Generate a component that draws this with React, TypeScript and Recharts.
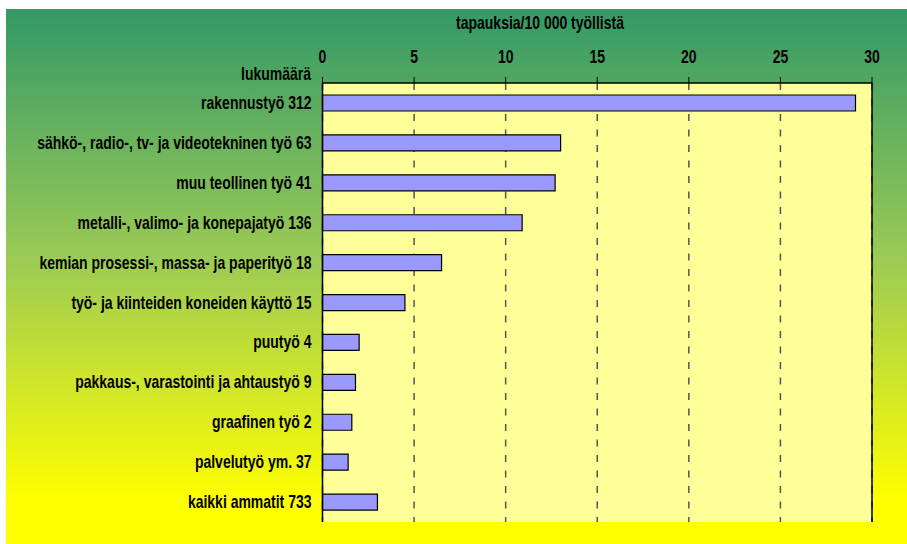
import React from 'react';
import { BarChart, Bar, XAxis, YAxis, CartesianGrid, ReferenceLine } from 'recharts';

const occupations = [
  'rakennustyö',
  'sähkö-, radio-, tv- ja videotekninen työ',
  'muu teollinen työ',
  'metalli-, valimo- ja konepajatyö',
  'kemian prosessi-, massa- ja paperityö',
  'työ- ja kiinteiden koneiden käyttö',
  'puutyö',
  'pakkaus-, varastointi ja ahtaustyö',
  'graafinen työ',
  'palvelutyö ym.',
  'kaikki ammatit',
];
const counts = ['312', '63', '41', '136', '18', '15', '4', '9', '2', '37', '733'];
const rates = [29.1, 13.0, 12.7, 10.9, 6.5, 4.5, 2.0, 1.8, 1.6, 1.4, 3.0];
const xTicks = [0, 5, 10, 15, 20, 25, 30];
const xTitle = 'tapauksia/10 000 työllistä';
const yTitle = 'lukumäärä';

const data = occupations.map((o, i) => ({ label: `${o} ${counts[i]}`, rate: rates[i] }));

const FONT = "'Liberation Sans', Arial, sans-serif";
const SX = 0.8;

const NarrowText = ({ x, y, anchor, children }: any) => (
  <text
    transform={`translate(${x},${y}) scale(${SX},1)`}
    x={0}
    y={0}
    textAnchor={anchor}
    fontFamily={FONT}
    fontSize={17.5}
    fontWeight="bold"
    fill="#000"
  >
    {children}
  </text>
);

const XTick = (props: any) => {
  const { x, y, payload } = props;
  return <NarrowText x={x} y={y - 12} anchor="middle">{payload.value}</NarrowText>;
};

const YTick = (props: any) => {
  const { x, y, payload } = props;
  return <NarrowText x={x} y={y + 6} anchor="end">{payload.value}</NarrowText>;
};

const XTitle = () => <NarrowText x={540} y={29} anchor="middle">{xTitle}</NarrowText>;

const YTitle = () => <NarrowText x={311} y={80} anchor="end">{yTitle}</NarrowText>;

export default function App() {
  return (
    <div style={{ position: 'absolute', left: 0, top: 0, width: 907, height: 544, background: '#fff' }}>
      <div
        style={{
          position: 'absolute',
          left: 6,
          top: 9,
          right: 0,
          bottom: 0,
          background: 'linear-gradient(to bottom, #339966 0%, #9CCB55 47%, #FFFF00 92%, #FFFF00 100%)',
        }}
      />
      <div style={{ position: 'absolute', left: 0, top: 0 }}>
        <BarChart
          width={907}
          height={544}
          data={data}
          layout="vertical"
          margin={{ top: 43, right: 35, bottom: 22, left: 0 }}
          barSize={16}
        >
          <CartesianGrid
            horizontal={false}
            vertical={true}
            stroke="#555555"
            strokeWidth={1.5}
            strokeDasharray="7 8.5"
            fill="#FFFF99"
            fillOpacity={1}
          />
          <XAxis
            type="number"
            orientation="top"
            domain={[0, 30]}
            ticks={xTicks}
            interval={0}
            height={40}
            tickSize={6}
            tickLine={{ stroke: '#000', strokeWidth: 1 }}
            axisLine={{ stroke: '#000', strokeWidth: 1.5 }}
            tick={<XTick />}
            label={<XTitle />}
          />
          <XAxis
            xAxisId="bottom"
            type="number"
            orientation="bottom"
            domain={[0, 30]}
            height={0}
            tick={false}
            tickLine={false}
            axisLine={{ stroke: '#666633', strokeWidth: 2 }}
          />
          <YAxis
            type="category"
            dataKey="label"
            width={322.5}
            interval={0}
            tickLine={false}
            tickSize={0}
            tickMargin={11}
            axisLine={{ stroke: '#000', strokeWidth: 1.5 }}
            tick={<YTick />}
            label={<YTitle />}
          />
          <ReferenceLine x={30} stroke="#000" strokeWidth={1.5} />
          <Bar dataKey="rate" fill="#9999FF" stroke="#000" strokeWidth={1.2} isAnimationActive={false} />
        </BarChart>
      </div>
    </div>
  );
}
